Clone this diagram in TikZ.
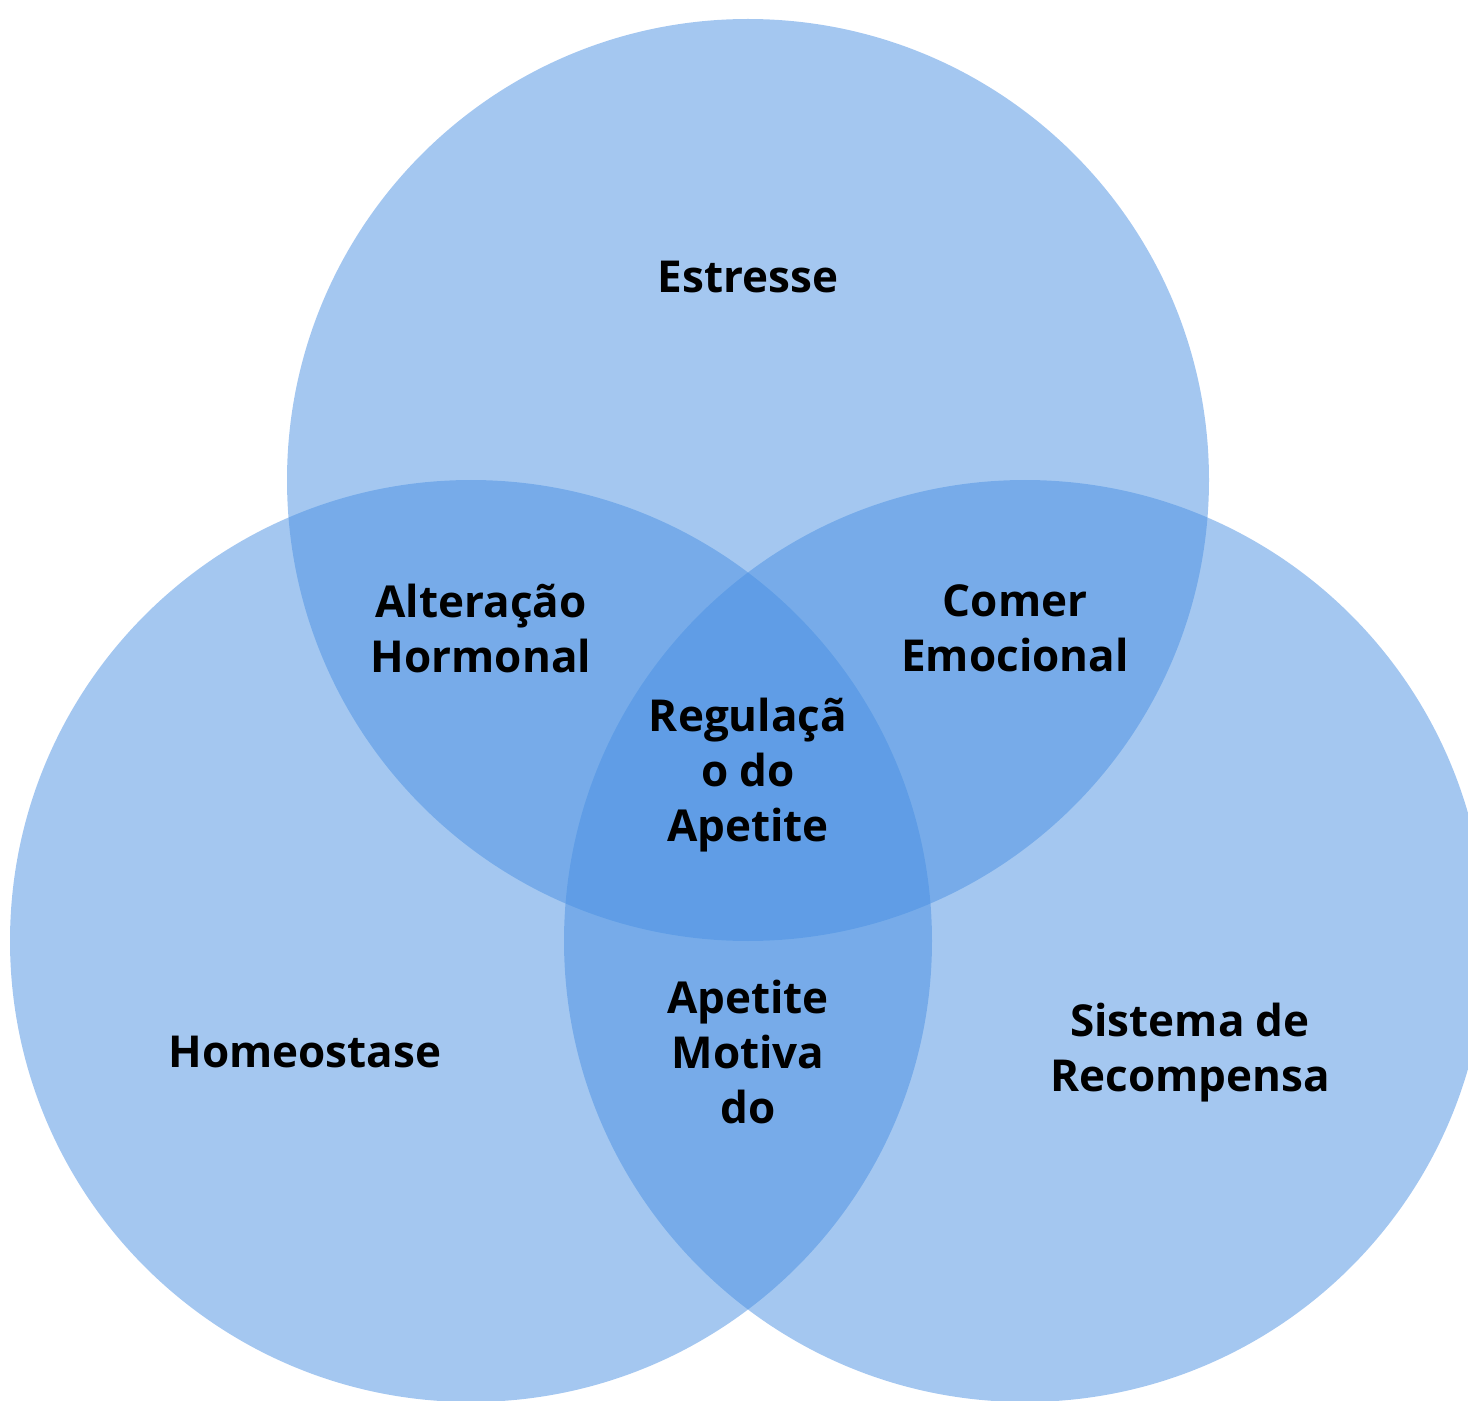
\documentclass[tikz,border=0pt]{standalone}
\usepackage{fontspec}
\setmainfont{Open Sans}
\usepackage{tikz}
\usetikzlibrary{positioning}
\definecolor{vennblue}{RGB}{74,144,226}

\begin{document}
\begin{tikzpicture}[x=0.5pt, y=-0.5pt,
    set/.style={circle, minimum size=461pt, inner sep=0pt, fill=vennblue, fill opacity=0.5},
    lbl/.style={align=center, text=black, font=\bfseries\fontsize{22}{27.5}\selectfont}]
    \useasboundingbox (0,0) rectangle (1468,1401);
    % the three sets
    \node[set] (estresse) at (748,480) {};
    \node[set] (homeostase) at (471,941) {};
    \node[set] (recompensa) at (1025,941) {};
    % labels
    \node[lbl] (estresse-lbl) at (748,277) {Estresse};
    \node[lbl] (homeostase-lbl) at (305,1052) {Homeostase};
    \node[lbl] (recompensa-lbl) at (1190,1053) {Sistema de\\Recompensa};
    \node[lbl] (hormonal) at (481,628) {Alteração\\Hormonal};
    \node[lbl] (emocional) at (1015,628) {Comer\\Emocional};
    \node[lbl] (motivado) at (748,1052) {Apetite\\Motiva\\do};
    \node[lbl] (regulacao) at (748,775) {Regulaçã\\o do\\Apetite};
\end{tikzpicture}
\end{document}
